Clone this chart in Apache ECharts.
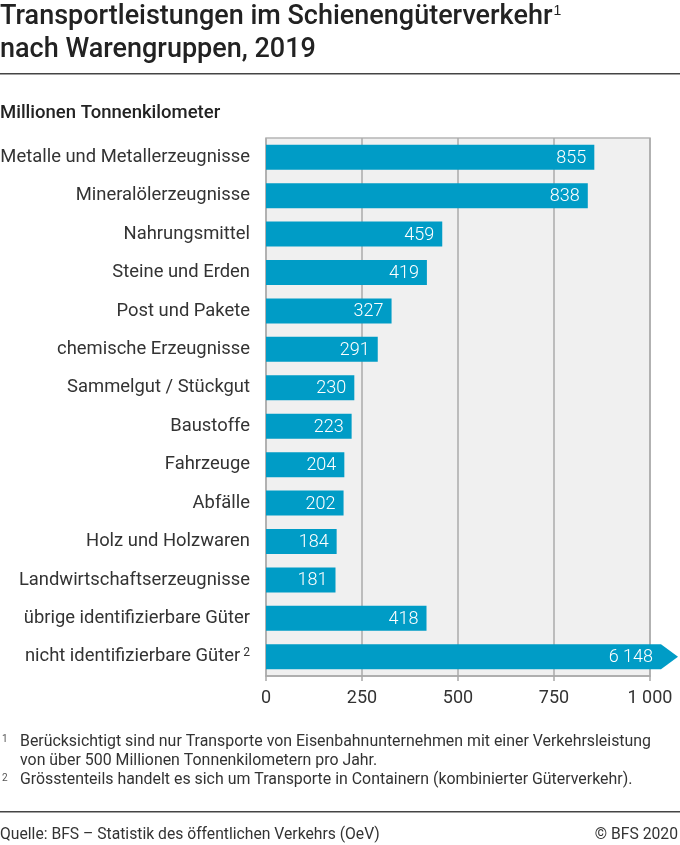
<!DOCTYPE html>
<html>
<head>
<meta charset="utf-8">
<script src="https://cdn.jsdelivr.net/npm/echarts@6/dist/echarts.min.js"></script>
<style>
  html, body { margin: 0; padding: 0; background: #fff; }
  #chart { width: 680px; height: 845px; }
</style>
</head>
<body>
<div id="chart"></div>
<script>
// Warengruppen und Werte (Mio. Tonnenkilometer)
const categories = [
  'Metalle und Metallerzeugnisse',
  'Mineralölerzeugnisse',
  'Nahrungsmittel',
  'Steine und Erden',
  'Post und Pakete',
  'chemische Erzeugnisse',
  'Sammelgut / Stückgut',
  'Baustoffe',
  'Fahrzeuge',
  'Abfälle',
  'Holz und Holzwaren',
  'Landwirtschaftserzeugnisse',
  'übrige identifizierbare Güter',
  'nicht identifizierbare Güter'
];
const values = [855, 838, 459, 419, 327, 291, 230, 223, 204, 202, 184, 181, 418, 6148];
const footnoteMarks = { 'nicht identifizierbare Güter': '2' };
const xTicks = [0, 250, 500, 750, 1000];
const xMax = 1000;

const barColor = '#009cc6';
const font = 'Roboto, "Noto Sans", sans-serif';

function fmt(n) {
  return String(n).replace(/\B(?=(\d{3})+(?!\d))/g, ' ');
}

const chart = echarts.init(document.getElementById('chart'));

const options = {
  animation: false,
  textStyle: { fontFamily: font },
  grid: {
    left: 266, right: 30, top: 138, bottom: 169,
    outerBoundsMode: 'none',
    show: true,
    backgroundColor: '#f0f0f0',
    borderColor: '#b5b5b5',
    borderWidth: 1.5,
    containLabel: false
  },
  xAxis: {
    type: 'value',
    min: 0, max: xMax, interval: 250,
    axisLine: { show: true, lineStyle: { color: '#a8a8a8', width: 1.5 } },
    axisTick: { show: true, length: 5, lineStyle: { color: '#a8a8a8', width: 1.5 } },
    splitLine: { show: true, lineStyle: { color: '#ababab', width: 1.5 } },
    axisLabel: {
      color: '#333', fontSize: 18, margin: 13, fontFamily: font,
      formatter: function (v) { return xTicks.indexOf(v) >= 0 ? fmt(v) : ''; }
    }
  },
  yAxis: {
    type: 'category',
    data: categories,
    inverse: true,
    axisLine: { show: false },
    axisTick: { show: false },
    splitLine: { show: false },
    axisLabel: {
      color: '#333', fontSize: 18.4, margin: 16, fontFamily: font,
      formatter: function (v) {
        return footnoteMarks[v] ? v + '{sup|' + footnoteMarks[v] + '}' : v;
      },
      rich: {
        sup: { fontSize: 12, verticalAlign: 'top', padding: [0, 0, 8, 3], color: '#333' }
      }
    }
  },
  series: [{
    type: 'custom',
    clip: false,
    data: values.map(function (v, i) { return [v, i]; }),
    renderItem: function (params, api) {
      const v = api.value(0);
      const i = api.value(1);
      const capped = Math.min(v, xMax);
      const p0 = api.coord([0, i]);
      const p1 = api.coord([capped, i]);
      const h = api.size([0, 1])[1] * 0.65;
      const y0 = p0[1] - h / 2;
      const children = [];
      let endX = p1[0];
      if (v > xMax) {
        endX = p1[0] + 11;
        children.push({
          type: 'polygon',
          shape: { points: [[p0[0], y0], [endX, y0], [endX + 17, p0[1]], [endX, y0 + h], [p0[0], y0 + h]] },
          style: { fill: barColor }
        });
      } else {
        children.push({
          type: 'rect',
          shape: { x: p0[0], y: y0, width: p1[0] - p0[0], height: h },
          style: { fill: barColor }
        });
      }
      children.push({
        type: 'text',
        style: {
          text: fmt(v),
          x: endX - 8, y: p0[1] + 1,
          align: 'right', verticalAlign: 'middle',
          fill: '#fff', fontSize: 18, fontFamily: font, fontWeight: 300
        }
      });
      return { type: 'group', children: children };
    }
  }],
  graphic: [
    {
      type: 'text', left: 0, top: 4,
      style: {
        text: 'Transportleistungen im Schienengüterverkehr{s|1}',
        fill: '#222', fontSize: 27, fontWeight: 500, fontFamily: font,
        rich: { s: { fontSize: 14, fontWeight: 500, verticalAlign: 'top', fill: '#222', padding: [0, 0, 12, 1] } }
      }
    },
    { type: 'text', left: 0, top: 37, style: { text: 'nach Warengruppen, 2019', fill: '#222', fontSize: 27, fontWeight: 500, fontFamily: font } },
    { type: 'rect', shape: { x: 0, y: 73, width: 680, height: 1.5 }, style: { fill: '#444' } },
    { type: 'text', left: 0, top: 104, style: { text: 'Millionen Tonnenkilometer', fill: '#222', fontSize: 18.5, fontWeight: 500, fontFamily: font } },
    { type: 'text', left: 2, top: 734, style: { text: '1', fill: '#555', fontSize: 10, fontFamily: font } },
    { type: 'text', left: 20, top: 734, style: { text: 'Berücksichtigt sind nur Transporte von Eisenbahnunternehmen mit einer Verkehrsleistung', fill: '#333', fontSize: 15.9, fontFamily: font } },
    { type: 'text', left: 20, top: 753, style: { text: 'von über 500 Millionen Tonnenkilometern pro Jahr.', fill: '#333', fontSize: 15.9, fontFamily: font } },
    { type: 'text', left: 2, top: 773, style: { text: '2', fill: '#555', fontSize: 10, fontFamily: font } },
    { type: 'text', left: 20, top: 772, style: { text: 'Grösstenteils handelt es sich um Transporte in Containern (kombinierter Güterverkehr).', fill: '#333', fontSize: 15.9, fontFamily: font } },
    { type: 'rect', shape: { x: 0, y: 811, width: 680, height: 1.5 }, style: { fill: '#444' } },
    { type: 'text', left: 0, top: 827, style: { text: 'Quelle: BFS – Statistik des öffentlichen Verkehrs (OeV)', fill: '#333', fontSize: 15.7, fontFamily: font } },
    { type: 'text', right: 2, top: 827, style: { text: '© BFS 2020', fill: '#333', fontSize: 15.7, fontFamily: font } }
  ]
};

chart.setOption(options);
window.addEventListener('resize', function () {
  chart.resize();
});
</script>
</body>
</html>
